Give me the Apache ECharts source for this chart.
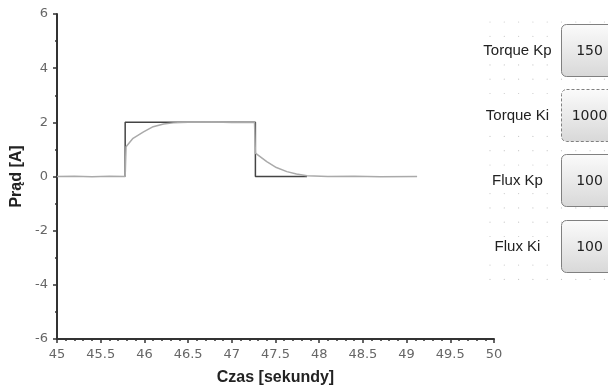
<!DOCTYPE html>
<html><head><meta charset="utf-8">
<script src="https://cdn.jsdelivr.net/npm/echarts@6/dist/echarts.min.js"></script>
<style>html,body{margin:0;padding:0;background:#fff}#c{width:608px;height:392px}</style>
</head><body><div id="c"></div>
<script>
// Reference (set-point) current: [time s, current A]
const refTime  = [45.78, 45.78, 47.27, 47.27, 47.86];
const refValue = [0,     2,     2,     0,     0];
// Measured current (gray)
const measTime  = [45.00, 45.20, 45.40, 45.60, 45.78, 45.79, 45.80, 45.87, 45.99, 46.10, 46.22, 46.33, 46.50, 46.80, 47.00, 47.26, 47.27, 47.28, 47.40, 47.51, 47.63, 47.74, 47.86, 48.10, 48.40, 48.70, 49.12];
const measValue = [0.00,  0.01, -0.01, 0.01, 0.00,  1.10,  1.12,  1.41,  1.65,  1.84,  1.94,  1.98,  2.00,  2.01,  1.99,  2.00,  0.86,  0.84,  0.55,  0.33,  0.18,  0.09,  0.03,  0.00,  0.01,  -0.01, 0.00];
// Axis ticks
const xMin = 45, xMax = 50, xStep = 0.5;
const yMin = -6, yMax = 6, yStep = 2;
// Control panel
const panelLabels = ['Torque Kp', 'Torque Ki', 'Flux Kp', 'Flux Ki'];
const panelValues = ['150', '1000', '100', '100'];

const refData = refTime.map((t, i) => [t, refValue[i]]);
const measData = measTime.map((t, i) => [t, measValue[i]]);

const graphics = [];
// dotted grid background
for (let gy = 22; gy <= 290; gy += 14.3) {
  for (let gx = 490; gx <= 608; gx += 14.3) {
    graphics.push({type: 'circle', shape: {cx: gx, cy: gy, r: 0.6}, style: {fill: '#c8c8c8'}, z: 1});
  }
}
const btnTops = [24, 89, 154, 220];
btnTops.forEach((top, i) => {
  graphics.push({
    type: 'rect', shape: {x: 561.5, y: top + 0.5, width: 60, height: 52, r: 5},
    style: {
      fill: new echarts.graphic.LinearGradient(0, 0, 0, 1, [{offset: 0, color: '#fbfbfb'}, {offset: 1, color: '#d8d8d8'}]),
      stroke: '#808080', lineWidth: 1, lineDash: i === 1 ? [3, 2] : null
    }, z: 5
  });
  graphics.push({
    type: 'text', x: 589.5, y: top + 27,
    style: {text: panelValues[i], fill: '#222', font: '14px "DejaVu Sans", sans-serif', align: 'center', verticalAlign: 'middle'}, z: 6
  });
  graphics.push({
    type: 'rect', shape: {x: 478, y: top + 17, width: 80, height: 19}, style: {fill: '#fff'}, z: 2
  });
  graphics.push({
    type: 'text', x: 517.5, y: top + 27,
    style: {text: panelLabels[i], fill: '#222', font: '15px "Liberation Sans", Arial, sans-serif', align: 'center', verticalAlign: 'middle'}, z: 6
  });
});

const chart = echarts.init(document.getElementById('c'), null, {renderer: 'canvas'});
chart.setOption({
  animation: false,
  backgroundColor: '#fff',
  grid: {left: 57, right: 114, top: 14, bottom: 53},
  xAxis: {
    type: 'value', min: xMin, max: xMax, interval: xStep,
    name: 'Czas [sekundy]', nameLocation: 'middle', nameGap: 31,
    nameTextStyle: {fontWeight: 'bold', fontSize: 16, color: '#222', fontFamily: 'Liberation Sans'},
    axisLine: {show: true, onZero: false, lineStyle: {color: '#333', width: 2}},
    axisTick: {show: true, inside: false, length: 4, lineStyle: {color: '#333', width: 1.5}},
    minorTick: {show: true, splitNumber: 5, length: 2, lineStyle: {color: '#333', width: 1.5}},
    axisLabel: {color: '#666', fontSize: 13, margin: 9, fontFamily: 'DejaVu Sans'},
    splitLine: {show: false}
  },
  yAxis: {
    type: 'value', min: yMin, max: yMax, interval: yStep,
    name: 'Prąd [A]', nameLocation: 'middle', nameGap: 32, nameRotate: 90,
    nameTextStyle: {fontWeight: 'bold', fontSize: 16, color: '#222', fontFamily: 'Liberation Sans'},
    axisLine: {show: true, onZero: false, lineStyle: {color: '#333', width: 2}},
    axisTick: {show: true, inside: false, length: 4, lineStyle: {color: '#333', width: 1.5}},
    minorTick: {show: true, splitNumber: 2, length: 2, lineStyle: {color: '#333', width: 1.5}},
    axisLabel: {color: '#666', fontSize: 13, margin: 9, fontFamily: 'DejaVu Sans'},
    splitLine: {show: false}
  },
  series: [
    {type: 'line', data: refData, showSymbol: false, z: 2,
     lineStyle: {color: '#444', width: 1.5}},
    {type: 'line', data: measData, showSymbol: false, z: 3,
     lineStyle: {color: '#aaa', width: 1.5}}
  ],
  graphic: graphics
});
</script></body></html>
